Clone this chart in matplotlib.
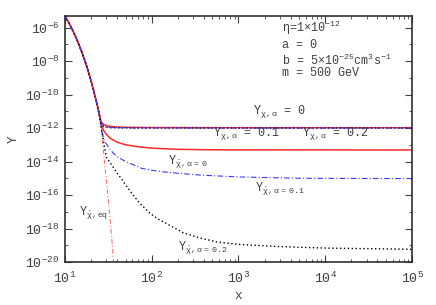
import numpy as np
import matplotlib
matplotlib.use('Agg')
import matplotlib.pyplot as plt
from matplotlib.ticker import LogLocator, NullFormatter

plt.rcParams['font.family'] = ['Liberation Mono', 'DejaVu Sans']
plt.rcParams['mathtext.fontset'] = 'custom'
plt.rcParams['mathtext.rm'] = 'Liberation Mono'
plt.rcParams['mathtext.it'] = 'Liberation Mono'
plt.rcParams['mathtext.bf'] = 'Liberation Mono'

# common equilibrium part (x, log10 Y)
x_early = [10, 11, 12, 13, 14, 15, 16, 17, 18, 19, 20, 21, 22, 23, 24, 25]
ly_early = [-5.31, -5.68, -6.06, -6.45, -6.83, -7.22, -7.61, -8.00, -8.39,
            -8.79, -9.19, -9.60, -10.01, -10.41, -10.82, -11.25]

# Y_chi for the three alpha values (after freeze-out)
x_chi = [26, 27, 28, 30, 33, 40, 60, 100, 1000, 1e5]
ly_chi_a0 = [-11.60, -11.72, -11.78, -11.85, -11.90, -11.94, -11.96, -11.97, -11.98, -11.98]
ly_chi_a1 = [-11.65, -11.80, -11.88, -11.94, -11.96, -11.98, -11.99, -11.99, -12.0, -12.0]
ly_chi_a2 = [-11.68, -11.83, -11.90, -11.96, -11.98, -11.99, -12.0, -12.0, -12.0, -12.0]

# Y_chibar alpha = 0
x_bar0 = [26, 27, 28, 30, 33, 40, 50, 70, 100, 200, 500, 1e5]
ly_bar0 = [-11.72, -11.98, -12.15, -12.38, -12.60, -12.85, -13.00, -13.12,
           -13.20, -13.27, -13.30, -13.31]

# Y_chibar alpha = 0.1
x_bar1 = [26, 27, 28, 29, 30, 33, 36, 40, 50, 77, 100, 130, 200, 360, 1000, 5000, 1e5]
ly_bar1 = [-11.80, -12.30, -12.65, -12.85, -12.95, -13.25, -13.50, -13.72, -14.00,
           -14.41, -14.52, -14.61, -14.70, -14.81, -14.92, -15.00, -15.02]

# Y_chibar alpha = 0.2
x_bar2 = [26, 27, 28, 30, 33, 36, 40, 45, 50, 60, 73, 95, 120, 150, 230, 350,
          560, 1000, 3000, 10000, 1e5]
ly_bar2 = [-11.85, -12.40, -12.90, -13.75, -14.05, -14.35, -14.70, -15.05, -15.40,
           -15.95, -16.50, -17.09, -17.45, -17.72, -18.25, -18.55, -18.80, -18.95,
           -19.08, -19.17, -19.24]

# Y_chibar equilibrium
x_eq = [26, 27, 28, 29, 30, 31, 32, 33, 34, 35, 36, 37]
ly_eq = [-11.95, -12.75, -13.55, -14.35, -15.10, -15.85, -16.60, -17.35, -18.10,
         -18.90, -19.70, -20.50]


def curve(xs, lys):
    x = np.array(x_early + list(xs), dtype=float)
    y = 10.0 ** np.array(ly_early + list(lys))
    return x, y


fig = plt.figure(figsize=(4.36, 3.05), dpi=100)
ax = fig.add_axes([0.149, 0.141, 0.796, 0.807])

c_red = '#ff2a2a'
c_blue = '#3a3aff'
c_grey = '#404040'

ax.plot(*curve(x_eq, ly_eq), color='#ff7070', lw=0.8, dashes=(4, 2, 1, 2))
ax.plot(*curve(x_bar0, ly_bar0), color=c_red, lw=1.1)
ax.plot(*curve(x_bar1, ly_bar1), color=c_blue, lw=0.8, dashes=(5, 2, 1, 2))
ax.plot(*curve(x_bar2, ly_bar2), color='black', lw=1.0, dashes=(1, 1.8))
ax.plot(*curve(x_chi, ly_chi_a0), color=c_red, lw=1.1)
ax.plot(*curve(x_chi, ly_chi_a2), color='black', lw=1.0, dashes=(1, 1.8))
ax.plot(*curve(x_chi, ly_chi_a1), color=c_blue, lw=0.8, dashes=(5, 2, 1, 2))

ax.set_xscale('log')
ax.set_yscale('log')
ax.set_xlim(10, 1e5)
ax.set_ylim(1e-20, 5e-6)

ax.yaxis.set_major_locator(LogLocator(base=100.0))
ax.yaxis.set_minor_locator(LogLocator(base=10.0, subs=(1.0,), numticks=30))
ax.yaxis.set_minor_formatter(NullFormatter())
ax.xaxis.set_minor_locator(LogLocator(base=10.0, subs=np.arange(2, 10), numticks=30))
ax.xaxis.set_minor_formatter(NullFormatter())
ax.tick_params(which='both', direction='in', top=True, right=True, colors=c_grey,
               labelsize=9.5)
ax.tick_params(which='major', length=5)
ax.tick_params(which='minor', length=2.5)
ax.tick_params(axis='x', pad=6)
ax.tick_params(axis='y', pad=4)
for s in ax.spines.values():
    s.set_color('#303030')
    s.set_linewidth(1.2)

ax.set_xlabel('x', color=c_grey, fontsize=9, labelpad=3)
ax.set_ylabel('Y', color=c_grey, fontsize=9, labelpad=4)

tk = dict(transform=ax.transAxes, color=c_grey, fontsize=8.5, va='center')
ax.text(0.625, 0.950, 'η=1×10$^{-12}$', **tk)
ax.text(0.625, 0.880, 'a = 0', **tk)
ax.text(0.625, 0.819, 'b = 5×10$^{-25}$cm$^{3}$s$^{-1}$', **tk)
ax.text(0.625, 0.766, 'm = 500 GeV', **tk)

ax.text(0.542, 0.61, r'Y$_{\chi,\alpha}$ = 0', **tk)
ax.text(0.427, 0.524, r'Y$_{\chi,\alpha}$ = 0.1', **tk)
ax.text(0.683, 0.524, r'Y$_{\chi,\alpha}$ = 0.2', **tk)
ax.text(0.297, 0.407, r'Y$_{\bar{\chi},\alpha\ =\ 0}$', **tk)
ax.text(0.548, 0.297, r'Y$_{\bar{\chi},\alpha\ =\ 0.1}$', **tk)
ax.text(0.326, 0.057, r'Y$_{\bar{\chi},\alpha\ =\ 0.2}$', **tk)
ax.text(0.04, 0.20, r'Y$_{\bar{\chi},\mathrm{eq}}$', **tk)

fig.savefig('out.png', dpi=100)
